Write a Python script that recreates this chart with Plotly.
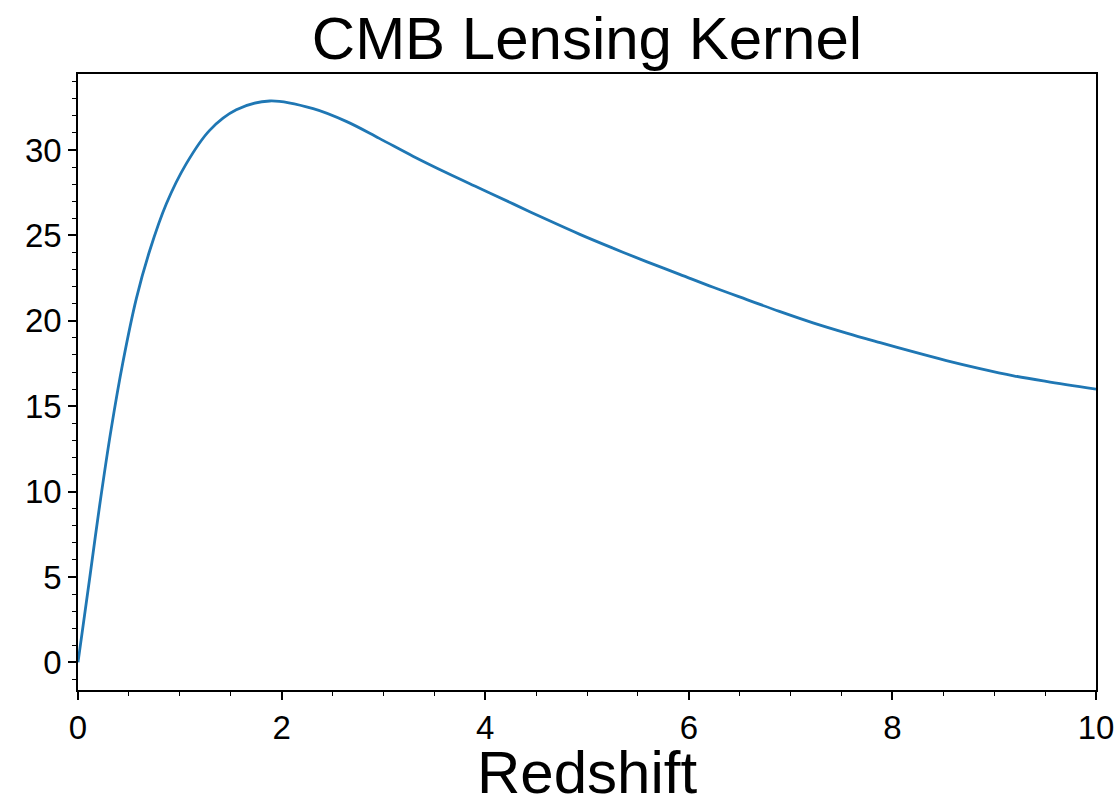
import plotly.graph_objects as go

# CMB lensing kernel sampled along redshift
redshift = [0.0, 0.115, 0.213, 0.327, 0.442, 0.573, 0.704, 0.868, 1.064, 1.293,
            1.555, 1.883, 2.31, 2.64, 2.96, 3.29, 3.62, 3.95, 4.28, 4.60,
            4.93, 5.26, 5.59, 5.91, 6.24, 6.57, 6.89, 7.22, 7.55, 7.88,
            8.20, 8.53, 8.86, 9.19, 9.51, 10.0]
kernel = [0.0, 4.94, 9.2, 13.7, 17.6, 21.3, 24.1, 26.85, 29.2, 31.15,
          32.35, 32.87, 32.42, 31.66, 30.68, 29.64, 28.67, 27.75, 26.83, 25.94,
          25.06, 24.24, 23.45, 22.72, 21.96, 21.24, 20.55, 19.88, 19.28, 18.72,
          18.19, 17.67, 17.20, 16.78, 16.45, 16.0]

x_ticks = [0, 2, 4, 6, 8, 10]
y_ticks = [0, 5, 10, 15, 20, 25, 30]

FONT = "Liberation Sans, Arial, Helvetica, sans-serif"

fig = go.Figure()
fig.add_trace(go.Scatter(
    x=redshift, y=kernel, mode="lines",
    line=dict(color="#1f77b4", width=2.8, shape="spline", smoothing=1.0),
    showlegend=False, hoverinfo="skip",
))

axis_common = dict(
    showgrid=False, zeroline=False, automargin=False,
    showline=True, linecolor="black", linewidth=1.6, mirror=True,
    ticks="outside", ticklen=8, tickwidth=1.6, tickcolor="black",
    tickfont=dict(family=FONT, size=33, color="black"),
)

fig.update_xaxes(
    range=[0, 10], tickvals=x_ticks, ticktext=[str(v) for v in x_ticks],
    minor=dict(dtick=0.5, ticks="outside", ticklen=4, tickwidth=1.2, tickcolor="black"),
    **axis_common,
)
fig.update_yaxes(
    range=[-1.62, 34.45], tickvals=y_ticks, ticktext=[str(v) for v in y_ticks],
    minor=dict(dtick=1, ticks="outside", ticklen=4, tickwidth=1.2, tickcolor="black"),
    **axis_common,
)

# x-axis label placed below the tick labels
fig.add_annotation(
    text="Redshift", showarrow=False,
    xref="paper", x=0.5, xanchor="center",
    yref="paper", y=0, yanchor="middle", yshift=-82,
    font=dict(family=FONT, size=60, color="black"),
)

fig.update_layout(
    width=1118, height=797,
    margin=dict(l=78, r=22, t=74, b=107),
    paper_bgcolor="white", plot_bgcolor="white",
    title=dict(text="CMB Lensing Kernel", font=dict(family=FONT, size=60, color="black"),
               x=0.525, xanchor="center", yref="container", y=0.952, yanchor="middle"),
)

fig.write_html("out.html")
